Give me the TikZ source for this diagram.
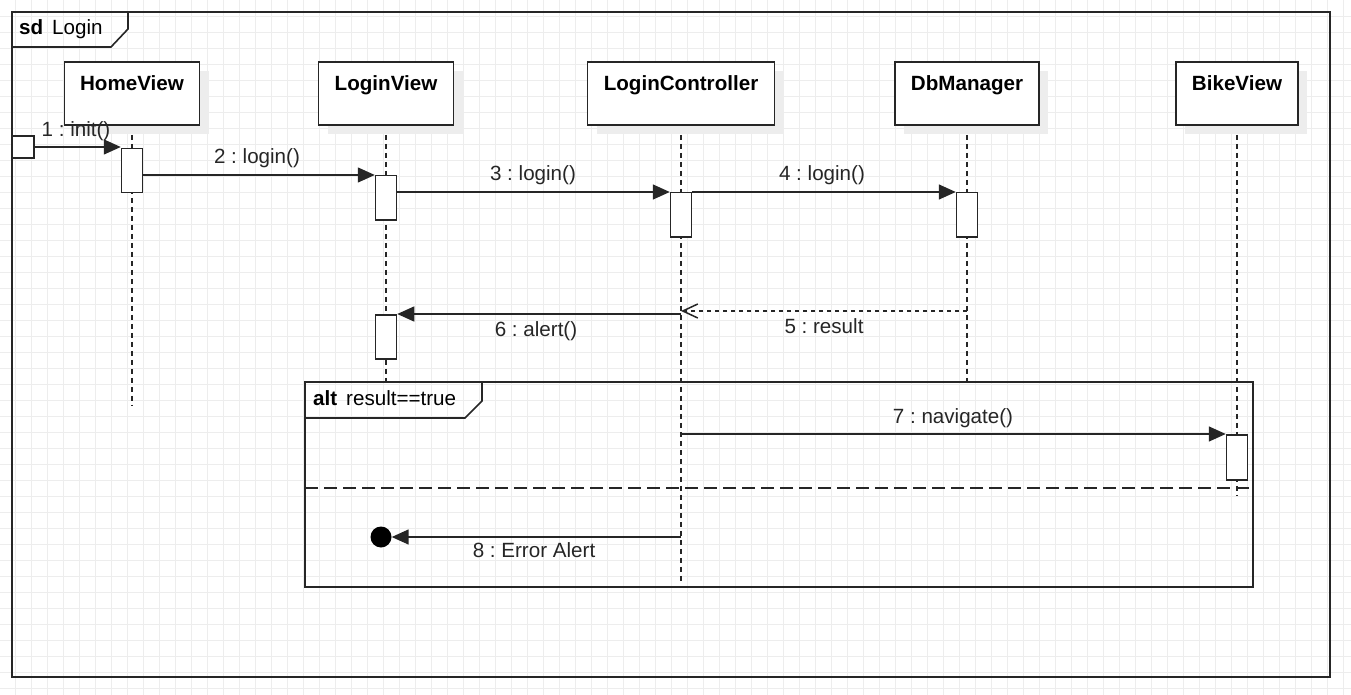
\documentclass[tikz,border=0pt]{standalone}
\usepackage{fontspec}
\setmainfont{Liberation Sans}
\usetikzlibrary{arrows.meta,shadows}
\frenchspacing
\begin{document}
\frenchspacing
\begin{tikzpicture}[x=1pt,y=-1pt,
  every node/.style={font=\fontsize{20.6}{24}\selectfont, inner sep=0pt},
  gridline/.style={draw=black!7, line width=0.8pt},
  frame/.style={draw=black!85, line width=1.6pt},
  head/.style={draw=black!85, line width=1.6pt, fill=white, minimum height=63pt,
    drop shadow={shadow xshift=9pt,shadow yshift=-9pt,fill=black!7,opacity=1}},
  title/.style={font=\fontsize{20.6}{24}\selectfont\bfseries, anchor=base},
  lifeline/.style={draw=black!85, line width=1.5pt, dash pattern=on 5pt off 4pt},
  act/.style={draw=black!85, line width=1.5pt, fill=white, minimum width=21pt, minimum height=44pt, anchor=north},
  msg/.style={draw=black!85, line width=1.5pt, -{Triangle[length=17pt,width=15pt]}},
  ret/.style={draw=black!85, line width=1.5pt, dash pattern=on 4pt off 4pt, -{Straight Barb[length=15pt,width=14pt]}},
  lbl/.style={anchor=base, text=black!85},
  sep/.style={draw=black!85, line width=1.5pt, dash pattern=on 13pt off 6pt}
]
\useasboundingbox (0,0) rectangle (1351,695);
\fill[white] (0,0) rectangle (1351,695);
% background grid
\foreach \i in {16,32,...,1344} \draw[gridline] (\i-0.5,0) -- (\i-0.5,695);
\foreach \j in {16,32,...,688} \draw[gridline] (0,\j) -- (1351,\j);

% outer frame
\draw[frame] (12,12) rectangle (1330,677);
\draw[frame] (12,47) -- (111,47) -- (128,29) -- (128,12);
\node[anchor=base west, font=\fontsize{20.6}{24}\selectfont\bfseries] (sdk) at (19,35) {sd};
\node[anchor=base west] (sdn) at (52,35) {Login};

% alt frame
\draw[frame] (305,382) rectangle (1253,587);
\draw[frame] (305,418) -- (465,418) -- (482,401) -- (482,382);
\node[anchor=base west, font=\fontsize{20.6}{24}\selectfont\bfseries] (altk) at (313,405) {alt};
\node[anchor=base west] (altc) at (346,405) {result==true};
\coordinate (sepL) at (305,488);
\coordinate (sepR) at (1253,488);
\draw[sep] (sepL) -- (sepR);

% heads
\node[head, minimum width=135pt] (home) at (132,93.5) {};
\node[head, minimum width=135pt] (lview) at (386,93.5) {};
\node[head, minimum width=187pt] (ctrl) at (681,93.5) {};
\node[head, minimum width=144pt] (db) at (967,93.5) {};
\node[head, minimum width=122pt] (bike) at (1237,93.5) {};

% lifeline ends
\coordinate (homeE) at (132,405);
\coordinate (lviewE) at (386,382);
\coordinate (ctrlE) at (681,583);
\coordinate (dbE) at (967,382);
\coordinate (bikeE) at (1237,495);
\draw[lifeline] (home.south) -- (homeE);
\draw[lifeline] (lview.south) -- (lviewE);
\draw[lifeline] (ctrl.south) -- (ctrlE);
\draw[lifeline] (db.south) -- (dbE);
\draw[lifeline] (bike.south) -- (bikeE);

% redraw heads over lifelines
\node[head, minimum width=135pt] (home) at (132,93.5) {};
\node[head, minimum width=135pt] (lview) at (386,93.5) {};
\node[head, minimum width=187pt] (ctrl) at (681,93.5) {};
\node[head, minimum width=144pt] (db) at (967,93.5) {};
\node[head, minimum width=122pt] (bike) at (1237,93.5) {};
\node[title] at ([yshift=-29pt]home.north) {HomeView};
\node[title] at ([yshift=-29pt]lview.north) {LoginView};
\node[title] at ([yshift=-29pt]ctrl.north) {LoginController};
\node[title] at ([yshift=-29pt]db.north) {DbManager};
\node[title] at ([yshift=-29pt]bike.north) {BikeView};

% activations
\node[act] (a1) at (132,148) {};
\node[act] (a2) at (386,175) {};
\node[act] (a3) at (681,192) {};
\node[act] (a4) at (967,192) {};
\node[act] (a5) at (386,314) {};
\node[act, minimum height=45pt] (a6) at (1237,434) {};

% found message
\node[draw=black!85, line width=1.5pt, fill=white, minimum size=22pt] (found) at (23,147) {};
\draw[msg] (found.east) -- (found.east -| a1.west);
\node[lbl] (l1) at (76,137) {1 : init()};

% messages
\draw[msg] (a1.east |- a2.north) -- (a2.north west);
\node[lbl] (l2) at (257,164) {2 : login()};
\draw[msg] (a2.east |- a3.north) -- (a3.north west);
\node[lbl] (l3) at (533,181) {3 : login()};
\draw[msg] (a3.north east) -- (a4.north west);
\node[lbl] (l4) at (822,181) {4 : login()};

\coordinate (m5s) at (967,311);
\coordinate (m5e) at (681,311);
\draw[ret] (m5s) -- (m5e);
\node[lbl] (l5) at (824,333) {5 : result};

\coordinate (m6s) at (681,314);
\draw[msg] (m6s) -- (a5.north east);
\node[lbl] (l6) at (536,336) {6 : alert()};

\coordinate (m7s) at (681,434);
\draw[msg] (m7s) -- (a6.north west);
\node[lbl] (l7) at (953,423) {7 : navigate()};

\node[circle, fill=black, minimum size=21pt] (lost) at (381,537) {};
\coordinate (m8s) at (681,537);
\draw[msg] (m8s) -- (lost.east);
\node[lbl] (l8) at (534,557) {8 : Error Alert};
\end{tikzpicture}
\end{document}
